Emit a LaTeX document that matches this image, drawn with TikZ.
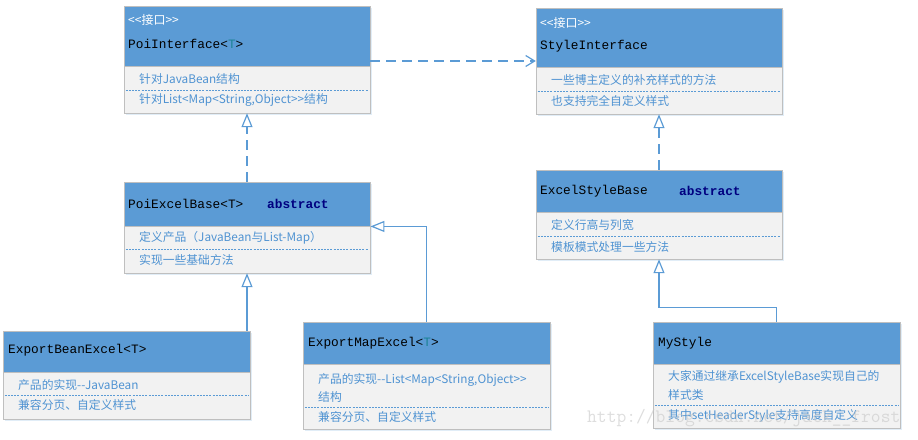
\documentclass[tikz,border=0pt]{standalone}
\usepackage{fontspec}
\setmainfont{Liberation Sans}
\newfontfamily\cjk{Noto Sans CJK SC}
\newfontfamily\mono{Liberation Mono}
\usetikzlibrary{arrows.meta,fit,shadows}
\definecolor{hdr}{HTML}{5B9BD5}
\definecolor{bodyc}{HTML}{F2F2F2}
\definecolor{framec}{HTML}{BFBFBF}
\definecolor{rowtxt}{HTML}{4F93D2}
\definecolor{tealT}{HTML}{1C8296}
\definecolor{navyc}{HTML}{000080}
\definecolor{linec}{HTML}{5B9BD5}
\tikzset{
  boxall/.style={inner sep=0pt, draw=none, fill=white,
    drop shadow={shadow xshift=1.5pt, shadow yshift=-1.5pt, fill=hdr, opacity=0.18}},
  boxbody/.style={inner sep=0pt, fill=bodyc, draw=framec, line width=0.9pt},
  boxhead/.style={inner sep=0pt, fill=hdr, draw=framec, line width=0.9pt},
  rowsep/.style={draw=hdr, line width=0.7pt, dash pattern=on 2pt off 1.2pt},
  titletxt/.style={anchor=west, inner sep=0pt, font=\mono\fontsize{12.8}{14}\selectfont},
  abstxt/.style={anchor=west, inner sep=0pt, text=navyc, font=\mono\bfseries\fontsize{12.8}{14}\selectfont},
  stereotxt/.style={anchor=west, inner sep=0pt, text=white, font=\cjk\fontsize{12}{14}\selectfont},
  rowtext/.style={anchor=west, inner sep=0pt, text=rowtxt, font=\cjk\fontsize{11.8}{14}\selectfont},
  conn/.style={draw=linec, line width=1.2pt},
  depline/.style={conn, dash pattern=on 10pt off 6pt, -{Straight Barb[length=9pt,width=11pt]}},
  realline/.style={conn, dash pattern=on 10pt off 6pt, -{Triangle[length=14pt,width=11pt,fill=white]}},
  inhline/.style={conn, -{Triangle[length=14pt,width=11pt,fill=white]}},
}
% #1 name, #2 left, #3 top, #4 right, #5 header bottom, #6 bottom, #7 separator y
\newcommand\umlbox[7]{%
  \node[boxall, fit={(#2,#3) (#4,#6)}] (#1) {};
  \node[boxbody, fit={(#2,#5) (#4,#6)}] (#1b) {};
  \node[boxhead, fit={(#2,#3) (#4,#5)}] (#1h) {};
  \coordinate (#1sep) at (0,#7);
  \draw[rowsep] ([xshift=2pt]#1b.west |- #1sep) -- ([xshift=-2pt]#1b.east |- #1sep);
}
\begin{document}
\begin{tikzpicture}[x=1pt,y=-1pt]
\useasboundingbox (0,0) rectangle (918,439);

% boxes
\umlbox{pi}{124}{6}{370}{66}{113}{90}
\umlbox{si}{536}{8}{782}{67}{114}{91}
\umlbox{peb}{124}{182}{370}{226}{273}{249}
\umlbox{esb}{536}{170}{782}{212}{259}{236}
\umlbox{beb}{3}{331}{250}{372}{419}{395}
\umlbox{mpe}{303}{322}{550}{364}{429}{407}
\umlbox{mys}{653}{322}{900}{364}{428}{405}

% PoiInterface
\node[stereotxt] (pi1) at (128,20) {<<接口>>};
\node[titletxt] (pi2) at (128,44) {PoiInterface<{\color{tealT}T}>};
\node[rowtext] (pi3) at (139,79) {针对JavaBean结构};
\node[rowtext] (pi4) at (139,100) {针对List<Map<String,Object>>结构};

% StyleInterface
\node[stereotxt] (si1) at (540,23) {<<接口>>};
\node[titletxt] (si2) at (540,46) {StyleInterface};
\node[rowtext] (si3) at (551,80) {一些博主定义的补充样式的方法};
\node[rowtext] (si4) at (551,101) {也支持完全自定义样式};

% PoiExcelBase
\node[titletxt] (peb1) at (128,204) {PoiExcelBase<T>};
\node[abstxt] (peb2) at (267,204) {abstract};
\node[rowtext] (peb3) at (139,238) {定义产品（JavaBean与List-Map）};
\node[rowtext] (peb4) at (139,260) {实现一些基础方法};

% ExcelStyleBase
\node[titletxt] (esb1) at (540,191) {ExcelStyleBase};
\node[abstxt] (esb2) at (679,191) {abstract};
\node[rowtext] (esb3) at (551,225) {定义行高与列宽};
\node[rowtext] (esb4) at (551,247) {模板模式处理一些方法};

% ExportBeanExcel
\node[titletxt] (beb1) at (8,350) {ExportBeanExcel<T>};
\node[rowtext] (beb2) at (18,385) {产品的实现--JavaBean};
\node[rowtext] (beb3) at (18,405) {兼容分页、自定义样式};

% ExportMapExcel
\node[titletxt] (mpe1) at (308,343) {ExportMapExcel<{\color{tealT}T}>};
\node[rowtext] (mpe2) at (318,380) {产品的实现--List<Map<String,Object>>};
\node[rowtext] (mpe3) at (318,397) {结构};
\node[rowtext] (mpe4) at (318,417) {兼容分页、自定义样式};

% MyStyle
\node[titletxt] (mys1) at (658,343) {MyStyle};
\node[rowtext] (mys2) at (668,377) {大家通过继承ExcelStyleBase实现自己的};
\node[rowtext] (mys3) at (668,395) {样式类};
\node[rowtext] (mys4) at (668,416) {其中setHeaderStyle支持高度自定义};

% connectors
\coordinate (depy) at (0,61);
\draw[depline] (pi.east |- depy) -- (si.west |- depy);
\draw[realline] (peb.north) -- (pi.south);
\draw[realline] (esb.north) -- (si.south);
\draw[inhline] (beb.north -| peb.south) -- (peb.south);
\draw[inhline] (mpe.north) |- (pebh.south east);
\draw[inhline] (mys.north) -- ++(0,-14) -| (esb.south);

% watermark
\node[anchor=west, inner sep=0pt, text=black!22, opacity=0.6,
  font=\ttfamily\fontsize{19}{20}\selectfont] (wm) at (587,418) {http://blog.csdn.net/jack\_\_frost};
\end{tikzpicture}
\end{document}
